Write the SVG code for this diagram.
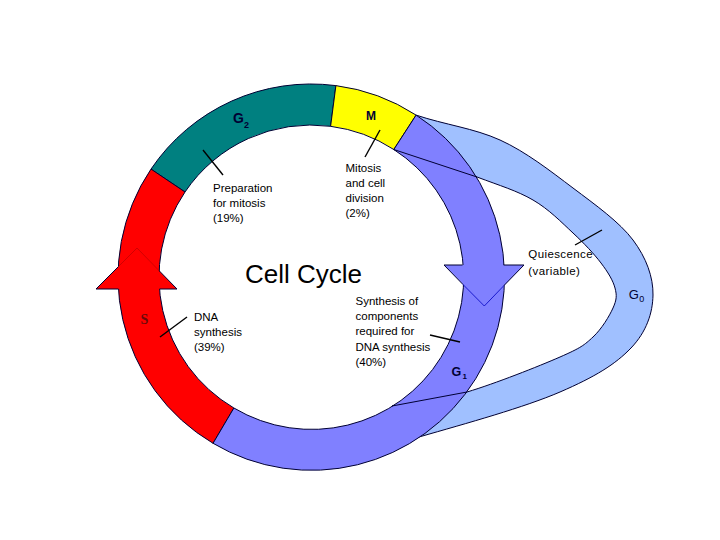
<svg xmlns="http://www.w3.org/2000/svg" width="720" height="540" viewBox="0 0 720 540">
<style>
.edge{stroke:#000033;stroke-width:1;stroke-linejoin:round}
.lbl{font-family:"Liberation Sans",Arial,sans-serif;font-size:11.5px;fill:#000}
.ph{font-family:"Liberation Sans",Arial,sans-serif;font-weight:bold;fill:#000033}
.lead{stroke:#000;stroke-width:1.4;fill:none}
</style>
<rect width="720" height="540" fill="#fff"/>
<g id="G0-loop">
<path class="edge" fill="#a0c0ff" d="M416.1,115.1 C444.7,124.7 474,128.2 500,140 C526,151.8 550.8,171.3 573,188 C595.2,204.7 619.7,222.2 633,240 C646.3,257.8 653.3,277 653,295 C652.7,313 646.5,331.8 631,348 C615.5,364.2 595.2,376.8 560,392 C524.8,407.2 466.7,423.3 419,437 L392,406 L467,392 C494.8,383.7 539,366.2 560,357 C581,347.8 584.2,345.2 593,337 C601.8,328.8 609.3,316.2 613,308 C616.7,299.8 617,295.5 615,288 C613,280.5 608,272.2 601,263 C594,253.8 584.3,243.5 573,233 C561.7,222.5 549,209.3 533,200 C517,190.7 500,185.7 477,177 L393.8,149.5 Z"/>
</g>
<g id="G2">
<path class="edge" fill="#008080" d="M335.9,85.6 A193,193 0 0 0 151,169.1 L185,192 A152,152 0 0 1 330.6,126.3 Z"/>
</g>
<g id="M">
<path class="edge" fill="#ffff00" d="M416.1,115.1 A193,193 0 0 0 335.9,85.6 L330.6,126.3 A152,152 0 0 1 393.8,149.5 Z"/>
</g>
<g id="S">
<path class="edge" fill="#ff0000" d="M151,169.1 A193,193 0 0 0 213.05,443.3 L233.9,408 A152,152 0 0 1 185,192 Z"/>
<polygon points="96,289 137,248 177,289" fill="#ff0000"/>
<polyline class="edge" fill="none" points="118.4,289 96,289 118.3,266.7"/>
<polyline class="edge" fill="none" points="159.5,289 177,289 159.1,270.7"/>
<polyline fill="none" stroke="#b00000" stroke-width="0.6" points="118.3,266.7 137,248 159.1,270.7"/>
</g>
<g id="G1">
<path class="edge" fill="#8080ff" d="M213.05,443.3 A193,193 0 0 0 416.1,115.1 L393.8,149.5 A152,152 0 0 1 233.9,408 Z"/>
<polygon points="444,265 524,265 484.3,306" fill="#8080ff"/>
<polyline class="edge" fill="none" points="462.5,265 444,265 462.8,284.3"/>
<polyline class="edge" fill="none" points="503.6,265 524,265 503.8,285.7"/>
<polyline fill="none" stroke="#0000c0" stroke-width="0.8" points="462.8,284.3 484.3,306 503.8,285.7"/>
</g>
<g id="connectors">
<line class="edge" x1="393.8" y1="149.5" x2="477" y2="177"/>
<line class="edge" x1="392" y1="406" x2="467" y2="392"/>
<line class="lead" x1="203" y1="150" x2="223" y2="175"/>
<line class="lead" x1="380" y1="130" x2="365" y2="157"/>
<line class="lead" x1="160" y1="337" x2="187" y2="317"/>
<line class="lead" x1="430" y1="335" x2="460" y2="342"/>
<line class="lead" x1="575" y1="245" x2="602" y2="230"/>
</g>
<g id="labels">
<text class="ph" x="233" y="122.7" font-size="14" fill="#0a1a1a">G</text>
<text class="ph" x="244" y="128" font-size="9" fill="#0a1a1a">2</text>
<text class="ph" x="366" y="120" font-size="12" fill="#000">M</text>
<text class="ph" x="451.5" y="375.7" font-size="12.5">G</text>
<text class="ph" x="462.5" y="378.5" font-size="8">1</text>
<text class="ph" x="628.7" y="299.3" font-size="13" style="font-weight:normal">G</text>
<text class="ph" x="639.3" y="302" font-size="9" style="font-weight:normal">0</text>
<text x="140.5" y="324.3" font-family="Liberation Serif,Times New Roman,serif" font-weight="bold" font-size="14" fill="#6a0a0a">S</text>
<text x="245" y="283" font-family="Liberation Sans,Arial,sans-serif" font-size="26" fill="#000">Cell Cycle</text>
<text class="lbl" x="213" y="192"><tspan x="213">Preparation</tspan><tspan x="213" dy="15">for mitosis</tspan><tspan x="213" dy="15">(19%)</tspan></text>
<text class="lbl" x="345.5" y="172"><tspan x="345.5">Mitosis</tspan><tspan x="345.5" dy="15">and cell</tspan><tspan x="345.5" dy="15">division</tspan><tspan x="345.5" dy="15">(2%)</tspan></text>
<text class="lbl" x="194" y="321"><tspan x="194">DNA</tspan><tspan x="194" dy="15">synthesis</tspan><tspan x="194" dy="15">(39%)</tspan></text>
<text class="lbl" x="355.5" y="304.5"><tspan x="355.5">Synthesis of</tspan><tspan x="355.5" dy="15.4">components</tspan><tspan x="355.5" dy="15.4">required for</tspan><tspan x="355.5" dy="15.4">DNA synthesis</tspan><tspan x="355.5" dy="15.4">(40%)</tspan></text>
<text class="lbl" x="528.3" y="258.3" font-size="10.5" letter-spacing="0.4"><tspan x="528.3">Quiescence</tspan><tspan x="528.3" dy="16.5">(variable)</tspan></text>
</g>
</svg>
